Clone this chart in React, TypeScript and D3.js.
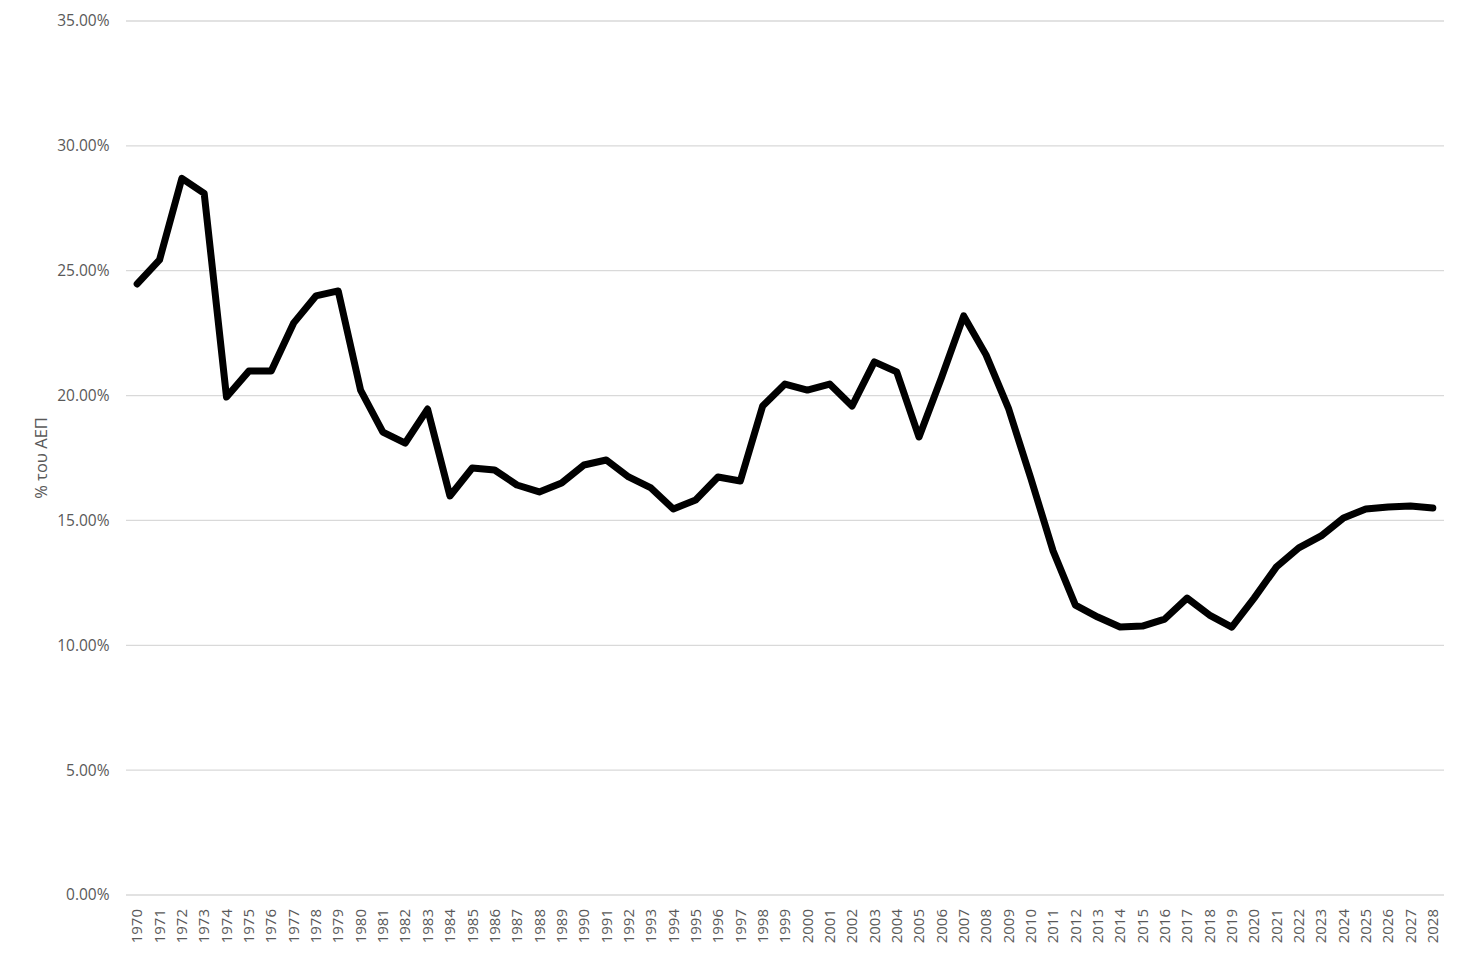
import React from "react";
import * as d3 from "d3";

const years: string[] = d3.range(1970, 2029).map(String);
const values: number[] = [
  24.47, 25.43, 28.7, 28.1, 19.94, 20.98, 20.98, 22.9, 23.99, 24.19,
  20.22, 18.54, 18.1, 19.46, 15.98, 17.1, 17.02, 16.42, 16.14, 16.5,
  17.22, 17.42, 16.74, 16.3, 15.46, 15.82, 16.74, 16.58, 19.58, 20.46,
  20.22, 20.46, 19.58, 21.35, 20.95, 18.34, 20.7, 23.19, 21.63, 19.5,
  16.7, 13.78, 11.61, 11.13, 10.73, 10.77, 11.05, 11.89, 11.21, 10.73,
  11.89, 13.14, 13.9, 14.38, 15.1, 15.46, 15.54, 15.58, 15.5,
];
const yTicks: number[] = [0, 5, 10, 15, 20, 25, 30, 35];
const yTitle = "% του ΑΕΠ";

export default function App() {
  const W = 1466, H = 958;
  const left = 126, right = 1444, top = 21, bottom = 895;
  const x = d3.scaleBand<string>().domain(years).range([left, right]);
  const y = d3.scaleLinear().domain([0, 35]).range([bottom, top]);
  const line = d3
    .line<number>()
    .x((_, i) => (x(years[i]) as number) + x.bandwidth() / 2)
    .y((d) => y(d));
  const font = "'Open Sans', 'Noto Sans', sans-serif";
  return (
    <svg width={W} height={H} style={{ position: "absolute", left: 0, top: 0 }} fontFamily={font}>
      <rect width={W} height={H} fill="#fff" />
      {yTicks.map((t) => (
        <g key={t}>
          <line x1={left} x2={right} y1={y(t)} y2={y(t)} stroke="#d9d9d9" strokeWidth={1.3} />
          <text x={109.5} y={y(t)} dy="0.35em" textAnchor="end" fontSize={15.5} fill="#595959">
            {t.toFixed(2) + "%"}
          </text>
        </g>
      ))}
      {years.map((yr) => {
        const cx = (x(yr) as number) + x.bandwidth() / 2;
        return (
          <text
            key={yr}
            transform={`translate(${cx},${909}) rotate(-90)`}
            textAnchor="end"
            dy="0.35em"
            fontSize={15}
            fill="#595959"
          >
            {yr}
          </text>
        );
      })}
      <text
        transform={`translate(${41},${(top + bottom) / 2}) rotate(-90)`}
        textAnchor="middle"
        dy="0.35em"
        fontSize={16.5}
        fill="#595959"
      >
        {yTitle}
      </text>
      <path d={line(values) || ""} fill="none" stroke="#000" strokeWidth={7} strokeLinejoin="round" strokeLinecap="round" />
    </svg>
  );
}
